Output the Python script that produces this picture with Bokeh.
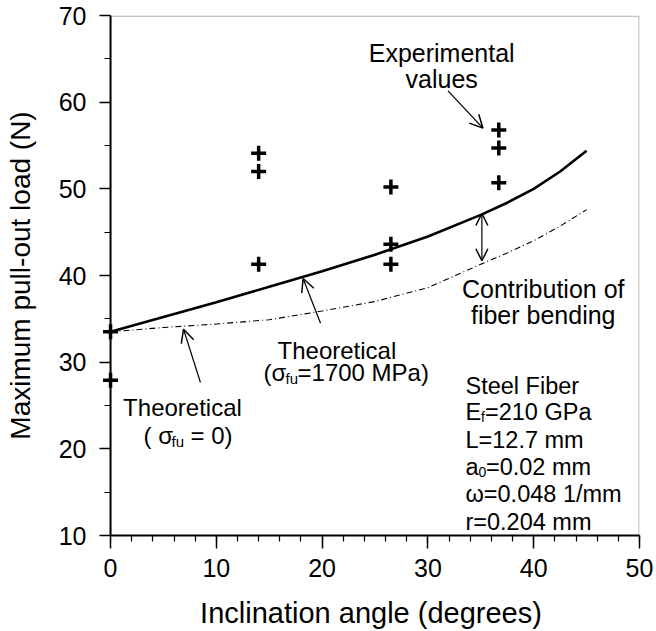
from bokeh.plotting import figure
from bokeh.models import (Label, Arrow, OpenHead, SingleIntervalTicker,
                          ColumnDataSource, BoxAnnotation, Span)
from bokeh.embed import file_html
from bokeh.resources import INLINE

# ---------------- data ----------------
exp_angle = [0, 0, 14, 14, 14, 26.5, 26.5, 26.5, 36.7, 36.7, 36.7]
exp_load = [33.5, 27.9, 54.1, 52.0, 41.3, 50.2, 43.6, 41.3, 56.8, 54.7, 50.7]

theory_angle = [0, 5, 10, 15, 20, 25, 30, 35, 37.5, 40, 42.5, 45]
theory_1700 = [33.5, 35.2, 36.9, 38.7, 40.5, 42.4, 44.5, 47.0, 48.4, 50.0, 52.0, 54.4]
theory_0 = [33.5, 34.0, 34.4, 34.9, 35.9, 37.0, 38.6, 41.3, 42.6, 44.0, 45.7, 47.6]

x_ticks_major = 10
y_ticks_major = 10

FONT = "Liberation Sans"

p = figure(width=656, height=631, x_range=(-0.76, 50), y_range=(10, 70),
           output_backend="svg", toolbar_location=None,
           min_border_left=102, min_border_right=17,
           min_border_top=15, min_border_bottom=96)
p.background_fill_color = "white"
p.border_fill_color = "white"
p.xgrid.visible = False
p.ygrid.visible = False
p.outline_line_color = None

p.xaxis.ticker = SingleIntervalTicker(interval=x_ticks_major, num_minor_ticks=5)
p.yaxis.ticker = SingleIntervalTicker(interval=y_ticks_major, num_minor_ticks=2)
p.xaxis.bounds = (0, 50)

for ax in (p.xaxis, p.yaxis):
    ax.axis_line_color = "black"
    ax.axis_line_width = 2
    ax.major_tick_line_color = "black"
    ax.minor_tick_line_color = "black"
    ax.major_tick_line_width = 1.5
    ax.minor_tick_line_width = 1.2
    ax.major_label_text_font = FONT
    ax.major_label_text_font_size = "25px"
    ax.major_label_text_color = "black"
    ax.axis_label_text_font = FONT
    ax.axis_label_text_font_style = "normal"
    ax.axis_label_text_color = "black"

# x axis: ticks point outward (down)
p.xaxis.major_tick_in = 0
p.xaxis.minor_tick_in = 0
p.xaxis.major_tick_out = 13
p.xaxis.minor_tick_out = 6
p.xaxis.major_label_standoff = 10

# y axis sits at the frame edge, 8 px left of angle 0; ticks shifted so
# that they end at angle 0 where the visible axis line is drawn
p.yaxis.axis_line_color = None
p.yaxis.major_tick_in = 8
p.yaxis.major_tick_out = 3
p.yaxis.minor_tick_in = 8
p.yaxis.minor_tick_out = -2
p.yaxis.major_label_standoff = 13

p.xaxis.axis_label_text_font_size = "29px"
p.yaxis.axis_label_text_font_size = "28px"
p.xaxis.axis_label = "Inclination angle (degrees)"
p.yaxis.axis_label = "Maximum pull-out load (N)"
p.xaxis.axis_label_standoff = 17
p.yaxis.axis_label_standoff = 20

# visible y axis line at angle 0
p.add_layout(Span(location=0, dimension="height", line_color="black",
                  line_width=2, level="underlay"))
# plot frame (top / right borders)
p.add_layout(BoxAnnotation(left=0, right=49.96, bottom=10, top=69.93,
                           fill_color=None, line_color="black",
                           line_width=1.2, level="underlay"))

# ---------------- curves ----------------
src = ColumnDataSource(dict(a=theory_angle, t1700=theory_1700, t0=theory_0))
p.line("a", "t1700", source=src, line_color="black", line_width=2.6)
p.line("a", "t0", source=src, line_color="black", line_width=1.1,
       line_dash="6 3 1 3")

exp_src = ColumnDataSource(dict(a=exp_angle, l=exp_load))
p.scatter("a", "l", source=exp_src, marker="cross", size=15,
          line_color="black", line_width=3.5)

# ---------------- annotations ----------------
def lab(x, y, text, size="24px", align="left", dx=0, dy=0, font=FONT):
    p.add_layout(Label(x=x, y=y, text=text, text_font=font,
                       text_font_size=size, text_align=align,
                       text_baseline="alphabetic", text_color="black",
                       x_offset=dx, y_offset=dy))

# Experimental values
lab(31.3, 65.7, "Experimental", size="25px", align="center")
lab(31.3, 62.7, "values", size="25px", align="center")
p.add_layout(Arrow(x_start=31.9, y_start=61.3, x_end=35.2, y_end=57.0,
                   line_width=1.2, line_color="black",
                   end=OpenHead(size=13, line_width=1.5, line_color="black")))

# Contribution of fiber bending
lab(40.9, 38.5, "Contribution of", size="25px", align="center")
lab(40.9, 35.4, "fiber bending", size="25px", align="center")
p.add_layout(Arrow(x_start=35.1, y_start=41.7, x_end=35.1, y_end=47.15,
                   line_width=1.2, line_color="black",
                   start=OpenHead(size=12, line_width=1.5, line_color="black"),
                   end=OpenHead(size=12, line_width=1.5, line_color="black")))

# Theoretical (sigma_fu = 1700 MPa)
lab(21.4, 31.3, "Theoretical", align="center")
x0 = 14.46
lab(x0, 28.8, "(σ")
lab(x0, 28.8, "fu", size="15px", dx=22, dy=-6)
lab(x0, 28.8, "=1700 MPa)", dx=34)
p.add_layout(Arrow(x_start=19.85, y_start=34.5, x_end=18.2, y_end=39.65,
                   line_width=1.2, line_color="black",
                   end=OpenHead(size=13, line_width=1.5, line_color="black")))

# Theoretical (sigma_fu = 0)
lab(6.8, 24.8, "Theoretical", align="center")
x1 = 3.12
lab(x1, 21.5, "( σ")
lab(x1, 21.5, "fu", size="15px", dx=28, dy=-6)
lab(x1, 21.5, "= 0)", dx=47)
p.add_layout(Arrow(x_start=8.5, y_start=27.65, x_end=6.9, y_end=33.8,
                   line_width=1.2, line_color="black",
                   end=OpenHead(size=13, line_width=1.5, line_color="black")))

# Steel fiber parameters
sx = 33.55
fs = "23.5px"
lab(sx, 27.3, "Steel Fiber", size=fs)
lab(sx, 24.2, "E", size=fs)
lab(sx, 24.2, "f", size="14px", dx=15.5, dy=-5)
lab(sx, 24.2, "=210 GPa", size=fs, dx=19.5)
lab(sx, 21.0, "L=12.7 mm", size=fs)
lab(sx, 17.9, "a", size=fs)
lab(sx, 17.9, "0", size="14px", dx=13, dy=-5)
lab(sx, 17.9, "=0.02 mm", size=fs, dx=20.5)
lab(sx, 14.8, "ω=0.048 1/mm", size=fs)
lab(sx, 11.6, "r=0.204 mm", size=fs)

open("out.html", "w").write(file_html(p, INLINE))
